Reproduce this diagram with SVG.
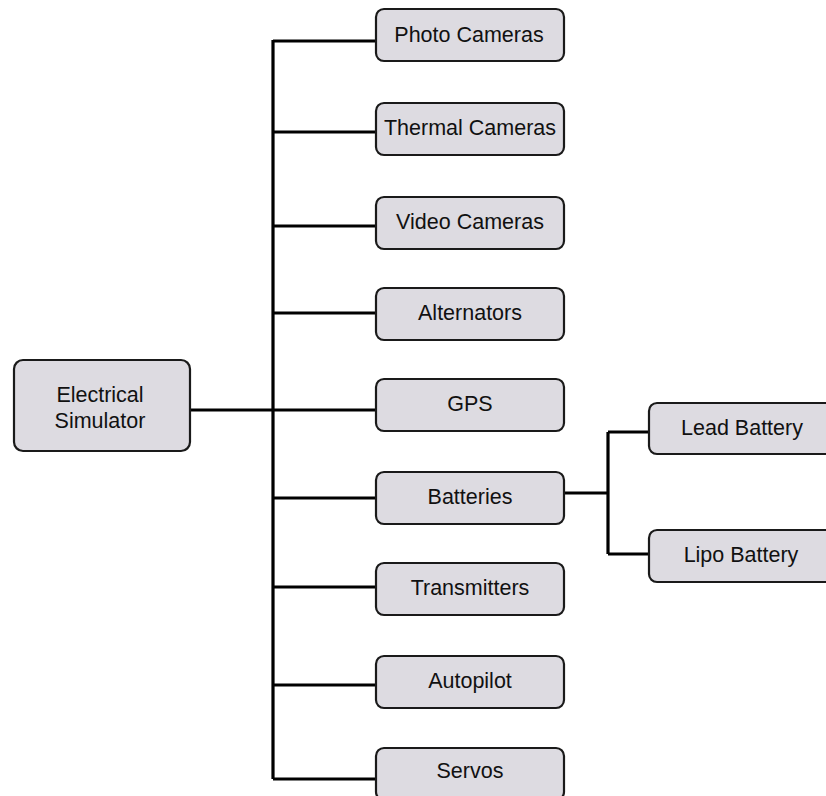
<svg xmlns="http://www.w3.org/2000/svg" width="826" height="796" viewBox="0 0 826 796">
<style>
.box{fill:#dddbe1;stroke:#1a1a1a;stroke-width:2.2}
.lbl{font-family:"Liberation Sans",Arial,sans-serif;font-size:21.5px;fill:#111;text-anchor:middle}
.ln{stroke:#000;stroke-width:3.2;fill:none}
</style>
<rect width="826" height="796" fill="#fff"/>
<g id="connectors">
<path class="ln" d="M190 410H273M273 40V779"/>
<path class="ln" d="M273 41H377M273 132H377M273 226H377M273 313H377M273 410H377M273 498H377M273 587H377M273 685H377M273 779H377"/>
<path class="ln" d="M565 493H608M608 432V554M608 432H650M608 554H650"/>
</g>
<g id="root"><rect class="box" x="14" y="360" width="176" height="91" rx="9"/><text class="lbl" x="100" y="402">Electrical</text><text class="lbl" x="100" y="428">Simulator</text></g>
<g id="photo"><rect class="box" x="376" y="9" width="188" height="52" rx="8"/><text class="lbl" x="469" y="42">Photo Cameras</text></g>
<g id="thermal"><rect class="box" x="376" y="103" width="188" height="52" rx="8"/><text class="lbl" x="470" y="135">Thermal Cameras</text></g>
<g id="video"><rect class="box" x="376" y="197" width="188" height="52" rx="8"/><text class="lbl" x="470" y="229">Video Cameras</text></g>
<g id="alternators"><rect class="box" x="376" y="288" width="188" height="52" rx="8"/><text class="lbl" x="470" y="320">Alternators</text></g>
<g id="gps"><rect class="box" x="376" y="379" width="188" height="52" rx="8"/><text class="lbl" x="470" y="411">GPS</text></g>
<g id="batteries"><rect class="box" x="376" y="472" width="188" height="52" rx="8"/><text class="lbl" x="470" y="504">Batteries</text></g>
<g id="transmitters"><rect class="box" x="376" y="563" width="188" height="52" rx="8"/><text class="lbl" x="470" y="595">Transmitters</text></g>
<g id="autopilot"><rect class="box" x="376" y="656" width="188" height="52" rx="8"/><text class="lbl" x="470" y="688">Autopilot</text></g>
<g id="servos"><rect class="box" x="376" y="748" width="188" height="52" rx="8"/><text class="lbl" x="470" y="778">Servos</text></g>
<g id="lead"><rect class="box" x="649" y="403" width="186" height="51" rx="8"/><text class="lbl" x="742" y="435">Lead Battery</text></g>
<g id="lipo"><rect class="box" x="649" y="530" width="186" height="52" rx="8"/><text class="lbl" x="741" y="562">Lipo Battery</text></g>
</svg>
